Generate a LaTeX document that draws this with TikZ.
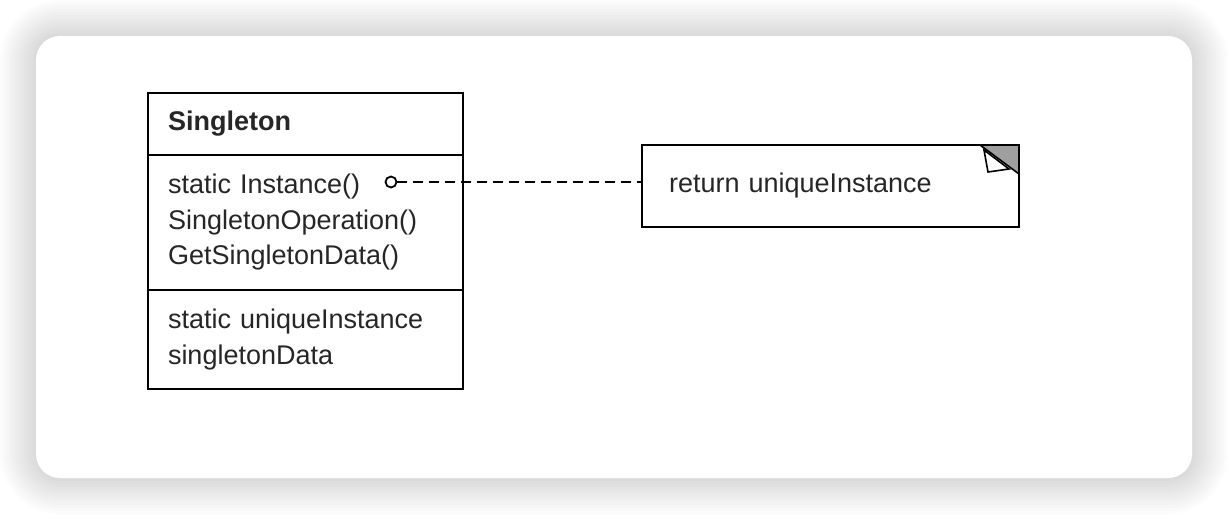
\documentclass[tikz,border=0pt]{standalone}
\usepackage{fontspec}
\setmainfont{Liberation Sans}
\usetikzlibrary{positioning}

\begin{document}
\begin{tikzpicture}[x=1pt, y=-1pt, line width=2pt,
    compart/.style={draw, rectangle, outer sep=0pt, minimum width=315pt, text width=275pt,
        inner xsep=20pt, align=left, text=black!85, font=\fontsize{27}{35.5}\selectfont},
    notebox/.style={draw, rectangle, outer sep=0pt, anchor=north west, minimum width=377pt,
        minimum height=82pt, text width=323pt, inner xsep=27pt, align=left, text=black!85,
        font=\fontsize{27}{35.5}\selectfont},
    hook/.style={draw, circle, fill=white, minimum size=11pt, inner sep=0pt, line width=1.8pt}]
    \useasboundingbox (0,0) rectangle (1228,514);
    % card and shadow
    \foreach \i in {1,...,12}
        \fill[black, opacity=.012, rounded corners={24+3*\i}] ({36-3*\i},{36-3*\i}) rectangle ({1192+3*\i},{478+3*\i});
    \fill[white, rounded corners=24] (36,36) rectangle (1192,478);
    % class
    \node[compart, anchor=north west, minimum height=62pt] (name) at (148,93) {\textbf{Singleton}};
    \node[compart, below=0pt of name, minimum height=135pt] (ops) {static Instance()\\SingletonOperation()\\GetSingletonData()};
    \node[compart, below=0pt of ops, minimum height=99pt] (attrs) {static uniqueInstance\\singletonData};
    % note
    \node[notebox] (ret) at (642,145) {return uniqueInstance};
    \filldraw[fill=gray!75, line width=1.6pt] ([xshift=-39pt]ret.north east) -- (ret.north east) -- ([yshift=-29pt]ret.north east) -- cycle;
    \filldraw[fill=white, line width=1.6pt] ([xshift=-35pt,yshift=-5pt]ret.north east) -- ([xshift=-31pt,yshift=-27pt]ret.north east) -- ([xshift=-10pt,yshift=-24pt]ret.north east) -- cycle;
    \node[hook] (inst) at (391,182) {};
    \draw[dash pattern=on 10pt off 6pt] (inst) -- (inst -| ret.west);
\end{tikzpicture}
\end{document}
